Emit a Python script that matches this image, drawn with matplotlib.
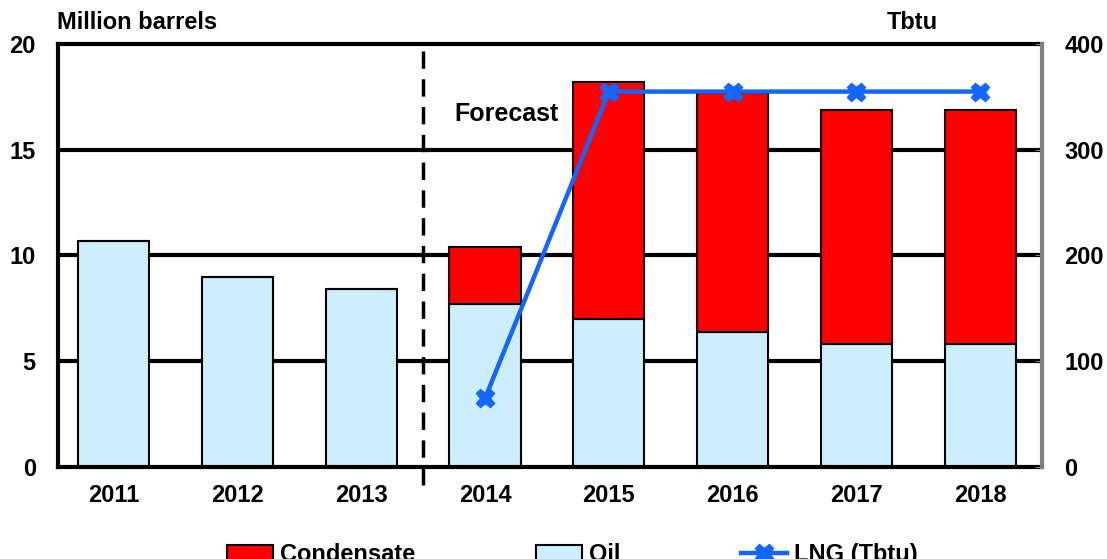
import numpy as np
import matplotlib.pyplot as plt
from matplotlib.patches import Patch
from matplotlib.lines import Line2D

plt.rcParams['font.family'] = ['Liberation Sans', 'DejaVu Sans']

years = ['2011', '2012', '2013', '2014', '2015', '2016', '2017', '2018']
oil = [10.7, 9.0, 8.4, 7.7, 7.0, 6.4, 5.8, 5.8]
condensate = [0, 0, 0, 2.7, 11.2, 11.3, 11.1, 11.1]
lng_years = ['2014', '2015', '2016', '2017', '2018']
lng = [65, 355, 355, 355, 355]

oil_color = '#cceeff'
cond_color = '#ff0000'
lng_color = '#1466ff'
fs = 17

fig = plt.figure(figsize=(11.07, 5.59), dpi=100)
ax = fig.add_axes([0.0524, 0.1646, 0.889, 0.7567])

x = np.arange(len(years))
w = 0.575
for y in [5, 10, 15]:
    ax.axhline(y, color='black', lw=3, zorder=1)
ax.bar(x, oil, w, color=oil_color, edgecolor='black', lw=1.5, zorder=2)
ax.bar(x, condensate, w, bottom=oil, color=cond_color, edgecolor='black', lw=1.5, zorder=2)

ax.set_xlim(-0.45, 7.5)
ax.set_ylim(0, 20)
ax.set_yticks([0, 5, 10, 15, 20])
ax.set_xticks(x)
ax.set_xticklabels(years)
ax.tick_params(axis='both', length=0, labelsize=fs)
ax.tick_params(axis='y', pad=16)
ax.tick_params(axis='x', pad=12)
for lab in ax.get_xticklabels() + ax.get_yticklabels():
    lab.set_fontweight('bold')
for s in ['left', 'top', 'bottom']:
    ax.spines[s].set_linewidth(3)
ax.spines['right'].set_visible(False)

# forecast divider, running a little below the axis
ax.plot([2.5, 2.5], [-0.85, 20], color='black', lw=2.5, ls=(0, (5, 3)),
        clip_on=False, zorder=3)
ax.text(3.17, 16.7, 'Forecast', fontsize=18, fontweight='bold', ha='center', va='center')

ax2 = ax.twinx()
ax2.set_ylim(0, 400)
ax2.set_yticks([0, 100, 200, 300, 400])
ax2.tick_params(axis='y', length=5, direction='in', color='gray', labelsize=fs, pad=16)
for lab in ax2.get_yticklabels():
    lab.set_fontweight('bold')
for s in ['left', 'top', 'bottom']:
    ax2.spines[s].set_visible(False)
ax2.spines['right'].set_color('gray')
ax2.spines['right'].set_linewidth(3)
lx = [years.index(yr) for yr in lng_years]
ax2.plot(lx, lng, color=lng_color, lw=3.2, marker='X', ms=13, zorder=4)

fig.text(0.0515, 0.959, 'Million barrels', fontsize=fs, fontweight='bold', ha='left', va='center')
fig.text(0.847, 0.959, 'Tbtu', fontsize=fs, fontweight='bold', ha='right', va='center')

handles = [Patch(facecolor=cond_color, edgecolor='black', lw=1.5),
           Patch(facecolor=oil_color, edgecolor='black', lw=1.5),
           Line2D([0], [0], color=lng_color, lw=3.2, marker='X', ms=13)]
fig.legend(handles, ['Condensate', 'Oil', 'LNG (Tbtu)'], loc='center',
           bbox_to_anchor=(0.517, 0.008), ncol=3, frameon=False,
           prop={'weight': 'bold', 'size': fs}, columnspacing=5.1,
           handlelength=1.95, handletextpad=0.3)

fig.savefig('out.png', dpi=100)
